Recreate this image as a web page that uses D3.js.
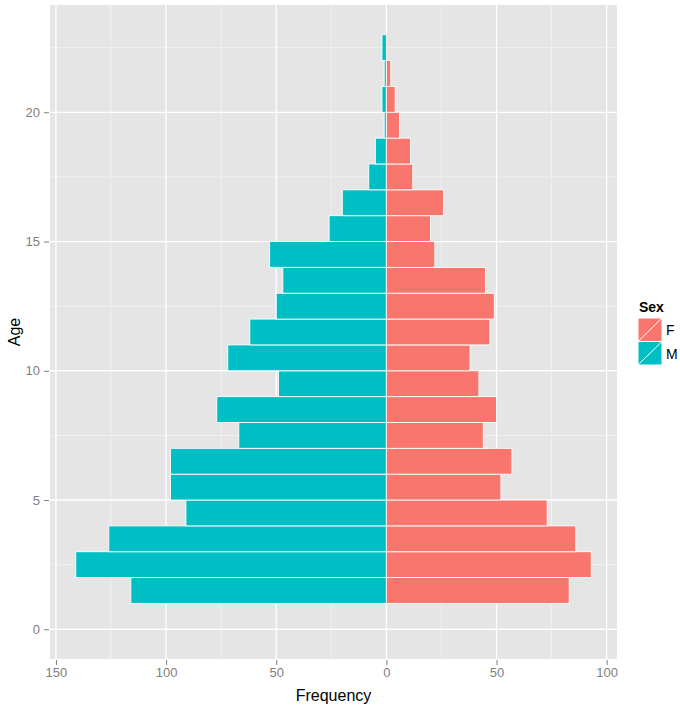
<!DOCTYPE html>
<html>
<head>
<meta charset="utf-8">
<script src="https://cdn.jsdelivr.net/npm/d3@7"></script>
<style>
  body { margin: 0; background: #fff; }
  text { font-family: 'Liberation Sans', Arial, sans-serif; }
</style>
</head>
<body>
<div id="chart"></div>
<script>
// Data: histogram bins of width 1, lower edge = age
const ages = [1, 2, 3, 4, 5, 6, 7, 8, 9, 10, 11, 12, 13, 14, 15, 16, 17, 18, 19, 20, 21, 22]
const male = [116, 141, 126, 91, 98, 98, 67, 77, 49, 72, 62, 50, 47, 53, 26, 20, 8, 5, 1, 2, 1, 2]
const female = [83, 93, 86, 73, 52, 57, 44, 50, 42, 38, 47, 49, 45, 22, 20, 26, 12, 11, 6, 4, 2, 0]
const sexes = ['F', 'M']
const colors = ['#F8766D', '#00BFC4']
const xTicks = [-150, -100, -50, 0, 50, 100]
const yTicks = [0, 5, 10, 15, 20]

const rows = []
ages.forEach((a, i) => {
  rows.push({ age: a, sex: 'M', value: -male[i] })
  rows.push({ age: a, sex: 'F', value: female[i] })
})

// Dimensions
const dims = { width: 680, height: 710, left: 50, right: 617, top: 5, bottom: 659 }

const svg = d3.select('#chart')
  .append('svg')
  .attr('width', dims.width)
  .attr('height', dims.height)

// Scales (ggplot-style 5% expansion)
const xMin = d3.min(rows, d => d.value)
const xMax = d3.max(rows, d => d.value)
const xPad = (xMax - xMin) * 0.05
const xScale = d3.scaleLinear()
  .domain([xMin - xPad, xMax + xPad])
  .range([dims.left, dims.right])

const yHi = d3.max(ages) + 1
const yPad = yHi * 0.05
const yScale = d3.scaleLinear()
  .domain([0 - yPad, yHi + yPad])
  .range([dims.bottom, dims.top])

const color = d3.scaleOrdinal().domain(sexes).range(colors)

// Panel
svg.append('rect')
  .attr('x', dims.left)
  .attr('y', dims.top)
  .attr('width', dims.right - dims.left)
  .attr('height', dims.bottom - dims.top)
  .attr('fill', '#E5E5E5')

// Minor grid
const xMinor = xTicks.slice(0, -1).map(t => t + 25)
const yMinor = yTicks.map(t => t + 2.5)
svg.selectAll('.x-minor')
  .data(xMinor)
  .join('line')
  .attr('x1', d => xScale(d)).attr('x2', d => xScale(d))
  .attr('y1', dims.top).attr('y2', dims.bottom)
  .attr('stroke', '#F2F2F2').attr('stroke-width', 0.9)
svg.selectAll('.y-minor')
  .data(yMinor)
  .join('line')
  .attr('y1', d => yScale(d)).attr('y2', d => yScale(d))
  .attr('x1', dims.left).attr('x2', dims.right)
  .attr('stroke', '#F2F2F2').attr('stroke-width', 0.9)

// Major grid
svg.selectAll('.x-major')
  .data(xTicks)
  .join('line')
  .attr('x1', d => xScale(d)).attr('x2', d => xScale(d))
  .attr('y1', dims.top).attr('y2', dims.bottom)
  .attr('stroke', '#fff').attr('stroke-width', 1.3)
svg.selectAll('.y-major')
  .data(yTicks)
  .join('line')
  .attr('y1', d => yScale(d)).attr('y2', d => yScale(d))
  .attr('x1', dims.left).attr('x2', dims.right)
  .attr('stroke', '#fff').attr('stroke-width', 1.3)

// Bars
svg.selectAll('.bar')
  .data(rows)
  .join('rect')
  .attr('x', d => xScale(Math.min(0, d.value)))
  .attr('width', d => Math.abs(xScale(d.value) - xScale(0)))
  .attr('y', d => yScale(d.age + 1))
  .attr('height', d => yScale(d.age) - yScale(d.age + 1))
  .attr('fill', d => color(d.sex))
  .attr('stroke', '#fff')
  .attr('stroke-width', 0.9)

// Axes
const xAxis = d3.axisBottom(xScale)
  .tickValues(xTicks)
  .tickFormat(d => Math.abs(d))
  .tickSize(5)
  .tickPadding(3)
const xAxisGroup = svg.append('g')
  .attr('transform', `translate(0,${dims.bottom + 1})`)
  .call(xAxis)
xAxisGroup.select('.domain').remove()

const yAxis = d3.axisLeft(yScale)
  .tickValues(yTicks)
  .tickSize(5)
  .tickPadding(4)
const yAxisGroup = svg.append('g')
  .attr('transform', `translate(${dims.left - 1},0)`)
  .call(yAxis)
yAxisGroup.select('.domain').remove()

svg.selectAll('.tick line').attr('stroke', '#7F7F7F')
svg.selectAll('.tick text')
  .attr('fill', '#7F7F7F')
  .attr('font-size', '13px')
  .attr('font-family', "'Liberation Sans', Arial, sans-serif")

// Axis titles
svg.append('text')
  .attr('x', (dims.left + dims.right) / 2)
  .attr('y', 701)
  .attr('text-anchor', 'middle')
  .attr('font-size', '16px')
  .attr('fill', '#000')
  .text('Frequency')

svg.append('text')
  .attr('transform', `translate(20,${(dims.top + dims.bottom) / 2}) rotate(-90)`)
  .attr('text-anchor', 'middle')
  .attr('font-size', '16px')
  .attr('fill', '#000')
  .text('Age')

// Legend
const legend = svg.append('g').attr('transform', 'translate(638,318)')
legend.append('text')
  .attr('x', 1)
  .attr('y', -6)
  .attr('font-size', '14px')
  .attr('font-weight', 'bold')
  .text('Sex')

const keys = legend.selectAll('.key')
  .data(sexes)
  .join('g')
  .attr('transform', (d, i) => `translate(0,${i * 23.5})`)
keys.append('rect')
  .attr('width', 24).attr('height', 23.5)
  .attr('fill', d => color(d))
  .attr('stroke', '#fff').attr('stroke-width', 1)
keys.append('line')
  .attr('x1', 0).attr('y1', 23.5).attr('x2', 24).attr('y2', 0)
  .attr('stroke', '#fff').attr('stroke-width', 1)
keys.append('text')
  .attr('x', 28).attr('y', 17)
  .attr('font-size', '14px')
  .text(d => d)
</script>
</body>
</html>
